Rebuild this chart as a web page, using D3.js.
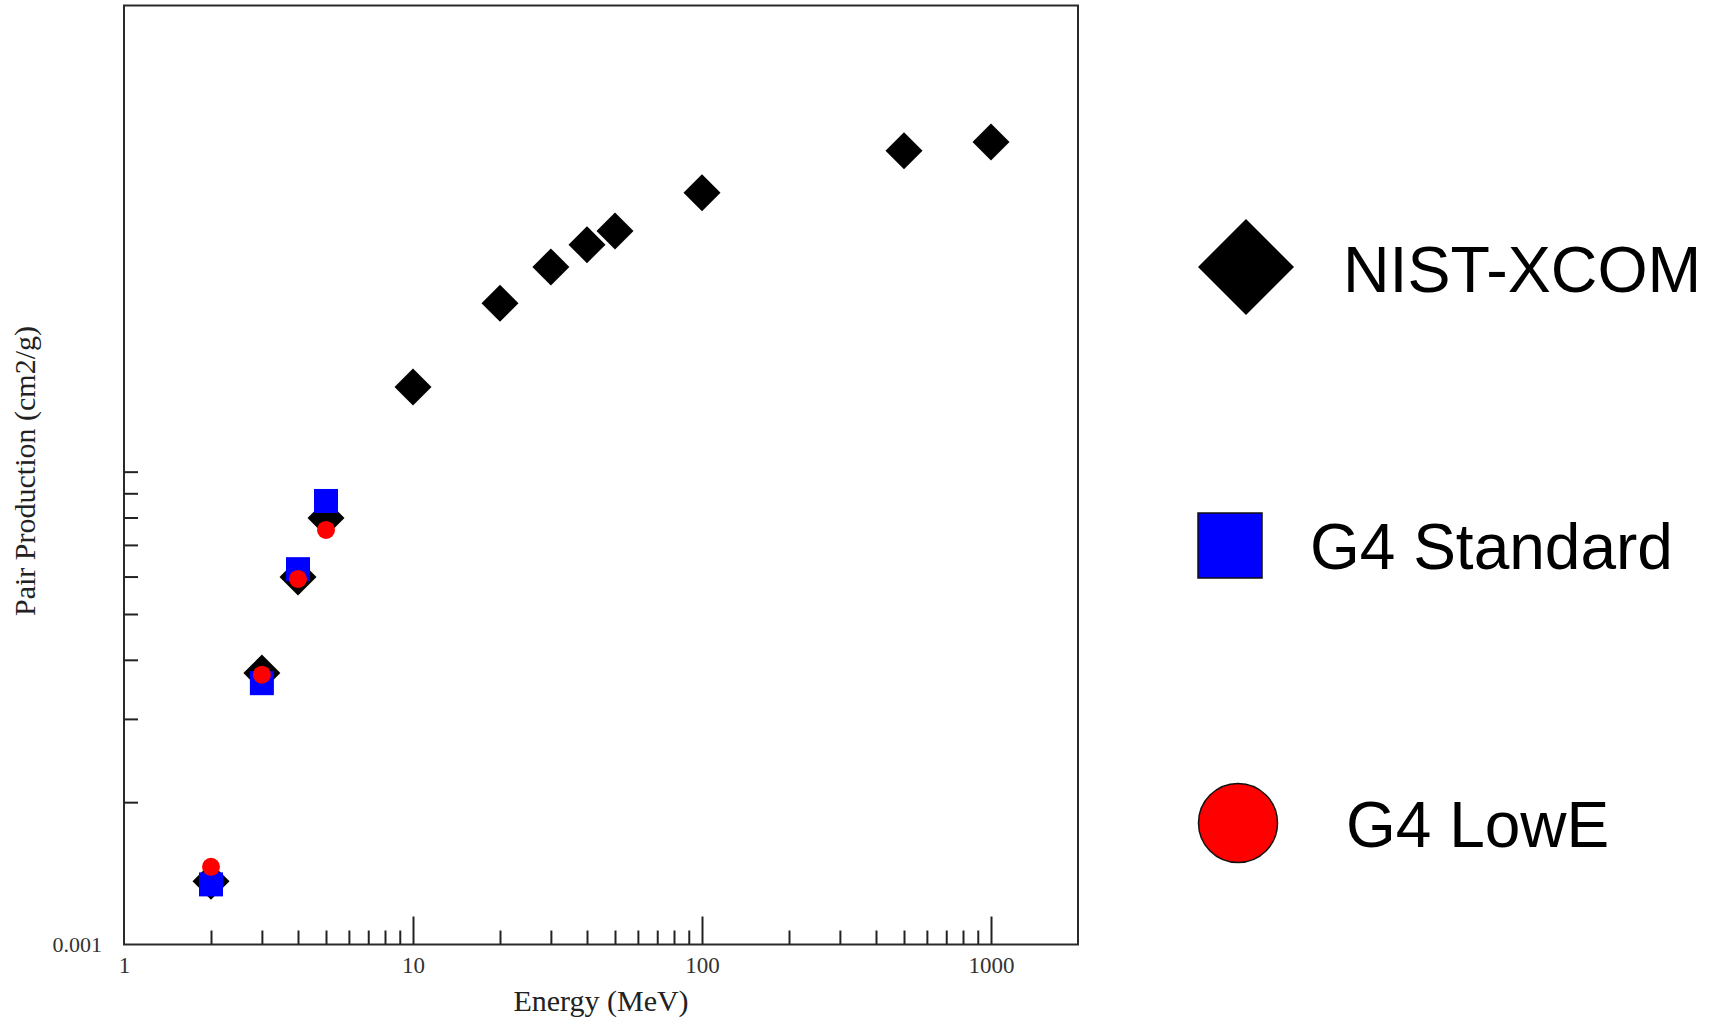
<!DOCTYPE html>
<html>
<head>
<meta charset="utf-8">
<script src="https://cdn.jsdelivr.net/npm/d3@7"></script>
<style>
  html, body { margin: 0; padding: 0; background: #fff; }
  svg { display: block; }
</style>
</head>
<body>
<svg id="chart" width="1716" height="1018"></svg>
<script>
// ---- Data ----
const energyNist = [2, 3, 4, 5, 10, 20, 30, 40, 50, 100, 500, 1000];
const nistXcom   = [0.00136, 0.00375, 0.00599, 0.00798, 0.0151, 0.0227, 0.0271, 0.0302, 0.0323, 0.0389, 0.0477, 0.0498];
const energyG4   = [2, 3, 4, 5];
const g4Standard = [0.00134, 0.00357, 0.00622, 0.00867];
const g4LowE     = [0.00146, 0.00372, 0.00593, 0.00753];

const xTickLabels = [1, 10, 100, 1000];
const xMinorTicks = [2,3,4,5,6,7,8,9, 20,30,40,50,60,70,80,90, 200,300,400,500,600,700,800,900];
const xMajorTicks = [10, 100, 1000];
const yTicks      = [0.002,0.003,0.004,0.005,0.006,0.007,0.008,0.009,0.01];
const yTickLabels = [0.001];

const seriesNames = ["NIST-XCOM", "G4 Standard", "G4 LowE"];

// ---- Layout ----
const svg = d3.select("#chart");
const pL = 124, pR = 1078, pT = 5.5, pB = 944.5;

const x = d3.scaleLog().domain([1, 2000]).range([pL, pR]);
const y = d3.scaleLog().domain([0.001, 0.0968]).range([pB, pT]);

const serif = "'Liberation Serif', 'Times New Roman', serif";
const sans = "'Liberation Sans', Arial, sans-serif";

// Frame
svg.append("rect")
  .attr("x", pL).attr("y", pT)
  .attr("width", pR - pL).attr("height", pB - pT)
  .attr("fill", "none").attr("stroke", "#2a2a2a").attr("stroke-width", 2);

// X axis ticks (inside, pointing up)
const xAxisG = svg.append("g").attr("transform", `translate(0,${pB})`);
xAxisG.call(d3.axisTop(x).tickValues(xMinorTicks).tickSize(14).tickFormat(""));
xAxisG.append("g").call(d3.axisTop(x).tickValues(xMajorTicks).tickSize(28).tickFormat(""));
xAxisG.selectAll("path.domain").remove();
xAxisG.selectAll("line").attr("stroke", "#222").attr("stroke-width", 2);

// X tick labels
svg.append("g").attr("transform", `translate(0,${pB})`)
  .call(d3.axisBottom(x).tickValues(xTickLabels).tickSize(0).tickPadding(12).tickFormat(d3.format("d")))
  .call(g => g.select("path.domain").remove())
  .selectAll("text")
  .attr("font-family", serif).attr("font-size", 23).attr("fill", "#333");

// Y axis ticks (inside, pointing right)
const yAxisG = svg.append("g").attr("transform", `translate(${pL},0)`);
yAxisG.call(d3.axisRight(y).tickValues(yTicks).tickSize(14).tickFormat(""));
yAxisG.selectAll("path.domain").remove();
yAxisG.selectAll("line").attr("stroke", "#222").attr("stroke-width", 2);

// Y tick labels
svg.append("g").attr("transform", `translate(${pL},0)`)
  .call(d3.axisLeft(y).tickValues(yTickLabels).tickSize(0).tickPadding(22).tickFormat(d3.format(".3f")))
  .call(g => g.select("path.domain").remove())
  .selectAll("text")
  .attr("font-family", serif).attr("font-size", 22).attr("fill", "#333");

// Axis titles
svg.append("text")
  .attr("x", (x(1) + x(2000)) / 2).attr("y", 1011)
  .attr("text-anchor", "middle")
  .attr("font-family", serif).attr("font-size", 30).attr("fill", "#222")
  .text("Energy (MeV)");

svg.append("text")
  .attr("transform", `translate(35,${471}) rotate(-90)`)
  .attr("text-anchor", "middle")
  .attr("font-family", serif).attr("font-size", 30).attr("fill", "#222")
  .text("Pair Production (cm2/g)");

// ---- Markers ----
const diamond = (h) => d3.symbol().type(d3.symbolSquare).size(2 * h * h)();
const nistData = energyNist.map((e, i) => ({ e, v: nistXcom[i] }));
const stdData  = energyG4.map((e, i) => ({ e, v: g4Standard[i] }));
const lowData  = energyG4.map((e, i) => ({ e, v: g4LowE[i] }));

svg.append("g").selectAll("path").data(nistData).join("path")
  .attr("d", diamond(18.5))
  .attr("transform", d => `translate(${x(d.e)},${y(d.v)}) rotate(45)`)
  .attr("fill", "#000");

svg.append("g").selectAll("path").data(stdData).join("path")
  .attr("d", d3.symbol().type(d3.symbolSquare).size(24 * 24)())
  .attr("transform", d => `translate(${x(d.e)},${y(d.v)})`)
  .attr("fill", "#0000ff");

svg.append("g").selectAll("circle").data(lowData).join("circle")
  .attr("cx", d => x(d.e)).attr("cy", d => y(d.v)).attr("r", 9)
  .attr("fill", "#ff0000");

// ---- Legend ----
const legend = svg.append("g");
legend.append("path")
  .attr("d", diamond(48))
  .attr("transform", "translate(1246,267) rotate(45)")
  .attr("fill", "#000");
legend.append("text")
  .attr("x", 1343).attr("y", 292)
  .attr("font-family", sans).attr("font-size", 64.5).attr("fill", "#000")
  .text(seriesNames[0]);

legend.append("rect")
  .attr("x", 1198).attr("y", 513).attr("width", 64).attr("height", 65)
  .attr("fill", "#0000ff").attr("stroke", "#111").attr("stroke-width", 1.5);
legend.append("text")
  .attr("x", 1310).attr("y", 569)
  .attr("font-family", sans).attr("font-size", 64).attr("fill", "#000")
  .text(seriesNames[1]);

legend.append("circle")
  .attr("cx", 1238).attr("cy", 823).attr("r", 39.5)
  .attr("fill", "#ff0000").attr("stroke", "#111").attr("stroke-width", 1.5);
legend.append("text")
  .attr("x", 1346).attr("y", 847)
  .attr("font-family", sans).attr("font-size", 64).attr("fill", "#000")
  .text(seriesNames[2]);
</script>
</body>
</html>
